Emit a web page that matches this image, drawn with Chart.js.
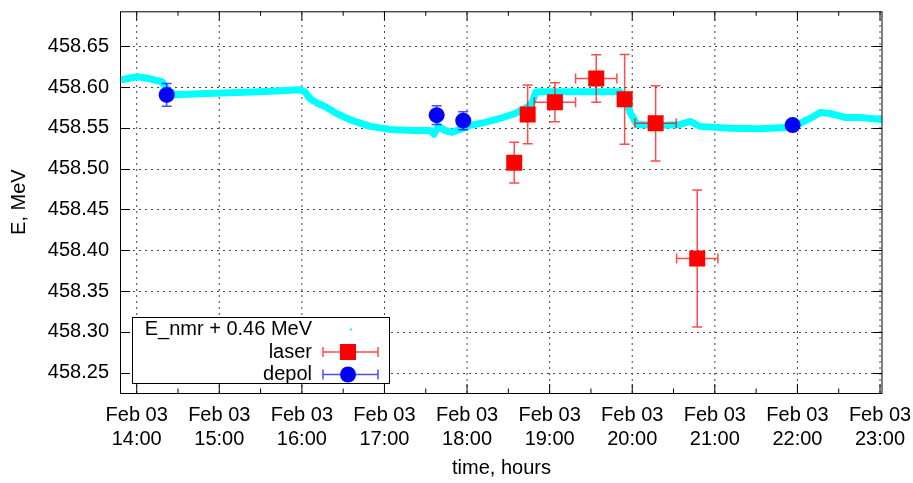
<!DOCTYPE html>
<html>
<head>
<meta charset="utf-8">
<title>Beam energy vs time</title>
<script src="https://cdn.jsdelivr.net/npm/chart.js@4/dist/chart.umd.min.js"></script>
<style>
  html, body { margin: 0; padding: 0; background: #fff; }
  #wrap { width: 913px; height: 483px; }
</style>
</head>
<body>
<div id="wrap"><canvas id="energyChart" width="913" height="483"></canvas></div>
<script>
// time axis in hours of Feb 03
const hourTicks = [14, 15, 16, 17, 18, 19, 20, 21, 22, 23];
const hourLabels = ['14:00', '15:00', '16:00', '17:00', '18:00', '19:00', '20:00', '21:00', '22:00', '23:00'];
const dayLabel = 'Feb 03';
const eTicks = [458.25, 458.30, 458.35, 458.40, 458.45, 458.50, 458.55, 458.60, 458.65];

// NMR energy (shifted by +0.46 MeV)
const nmrTime = [13.810, 14.004, 14.161, 14.306, 14.379, 14.464, 14.766, 15.130, 15.493, 15.856,
                 15.977, 16.038, 16.098, 16.195, 16.280, 16.401, 16.522, 16.643, 16.825, 17.067,
                 17.309, 17.551, 17.600, 17.648, 17.733, 17.818, 17.915, 18.036, 18.218, 18.399,
                 18.581, 18.739, 18.787, 18.835, 19.126, 19.489, 19.852, 19.925, 19.973, 20.058,
                 20.336, 20.579, 20.700, 20.821, 21.184, 21.547, 21.911, 22.032, 22.153, 22.274,
                 22.395, 22.576, 22.758, 23.024];
const nmrE = [458.6090, 458.6127, 458.6102, 458.6066, 458.5957, 458.5908, 458.5920, 458.5932, 458.5944, 458.5963,
              458.5969, 458.5944, 458.5859, 458.5799, 458.5762, 458.5689, 458.5628, 458.5580, 458.5519, 458.5482,
              458.5470, 458.5470, 458.5422, 458.5519, 458.5470, 458.5446, 458.5482, 458.5531, 458.5568, 458.5616,
              458.5677, 458.5762, 458.5810, 458.5944, 458.5944, 458.5944, 458.5944, 458.5859, 458.5689, 458.5543,
              458.5531, 458.5543, 458.5580, 458.5519, 458.5495, 458.5489, 458.5507, 458.5555, 458.5616, 458.5689,
              458.5677, 458.5628, 458.5628, 458.5604];

// laser backscattering points
const laserTime = [18.571, 18.734, 19.064, 19.564, 19.908, 20.283, 20.787];
const laserE    = [458.5074, 458.5665, 458.5815, 458.6106, 458.5851, 458.5556, 458.3900];
const laserTErr = [0, 0, 0.25, 0.25, 0, 0.25, 0.25];
const laserEErr = [0.025, 0.036, 0.024, 0.029, 0.055, 0.046, 0.084];

// resonant depolarization points
const depolTime = [14.363, 17.632, 17.954, 21.942];
const depolE    = [458.5905, 458.5657, 458.5589, 458.5535];
const depolTErr = [0, 0, 0, 0];
const depolEErr = [0.014, 0.0115, 0.011, 0.004];

const FONT = "'Liberation Sans', Arial, Helvetica, sans-serif";
Chart.defaults.font.family = FONT;
Chart.defaults.font.size = 20;
Chart.defaults.color = '#000';

const NMR_COLOR = '#00ffff';
const LASER_COLOR = '#ff0000';
const DEPOL_COLOR = '#0000ff';
const LASER_BAR = 'rgba(255,0,0,0.7)';
const DEPOL_BAR = 'rgba(0,0,255,0.7)';

function toXY(xs, ys) {
    return xs.map((t, i) => ({ x: t, y: ys[i] }));
}

// error bars with small caps, drawn through the chart scales
function drawErrorBars(ctx, xs, ys, tErr, eErr, color, xScale, yScale) {
    const cap = 5;
    ctx.save();
    ctx.strokeStyle = color;
    ctx.lineWidth = 1.5;
    for (let i = 0; i < xs.length; i++) {
        const px = xScale.getPixelForValue(xs[i]);
        const py = yScale.getPixelForValue(ys[i]);
        if (eErr[i] > 0) {
            const top = yScale.getPixelForValue(ys[i] + eErr[i]);
            const bot = yScale.getPixelForValue(ys[i] - eErr[i]);
            ctx.beginPath();
            ctx.moveTo(px, top); ctx.lineTo(px, bot);
            ctx.moveTo(px - cap, top); ctx.lineTo(px + cap, top);
            ctx.moveTo(px - cap, bot); ctx.lineTo(px + cap, bot);
            ctx.stroke();
        }
        if (tErr[i] > 0) {
            const l = xScale.getPixelForValue(xs[i] - tErr[i]);
            const r = xScale.getPixelForValue(xs[i] + tErr[i]);
            ctx.beginPath();
            ctx.moveTo(l, py); ctx.lineTo(r, py);
            ctx.moveTo(l, py - cap); ctx.lineTo(l, py + cap);
            ctx.moveTo(r, py - cap); ctx.lineTo(r, py + cap);
            ctx.stroke();
        }
    }
    ctx.restore();
}

// keep the plot box fixed: no extra room for overhanging tick labels
function noOverhang(s) {
    s.paddingLeft = 0;
    s.paddingRight = 0;
    s.paddingTop = 0;
    s.paddingBottom = 0;
}

const gridPlugin = {
    id: 'dottedGrid',
    beforeDatasetsDraw(chart) {
        const { ctx, chartArea: a, scales: { x, y } } = chart;
        ctx.save();
        ctx.strokeStyle = '#444';
        ctx.lineWidth = 1;
        ctx.setLineDash([2, 4]);
        hourTicks.forEach(t => {
            const px = x.getPixelForValue(t);
            ctx.beginPath(); ctx.moveTo(px, a.bottom); ctx.lineTo(px, a.top); ctx.stroke();
        });
        eTicks.forEach(v => {
            const py = Math.round(y.getPixelForValue(v)) + 0.5;
            ctx.beginPath(); ctx.moveTo(a.left, py); ctx.lineTo(a.right, py); ctx.stroke();
        });
        ctx.restore();
    }
};

const errorBarPlugin = {
    id: 'errorBars',
    afterDatasetDraw(chart, args) {
        // right after the NMR band, so the markers end up on top of the bars
        if (args.index !== 0) return;
        const { ctx, chartArea: a, scales: { x, y } } = chart;
        ctx.save();
        ctx.beginPath();
        ctx.rect(a.left, a.top, a.right - a.left, a.bottom - a.top);
        ctx.clip();
        drawErrorBars(ctx, laserTime, laserE, laserTErr, laserEErr, LASER_BAR, x, y);
        drawErrorBars(ctx, depolTime, depolE, depolTErr, depolEErr, DEPOL_BAR, x, y);
        ctx.restore();
    }
};

const framePlugin = {
    id: 'frameAndKey',
    afterDraw(chart) {
        const { ctx, chartArea: a, scales: { x, y } } = chart;
        ctx.save();
        ctx.strokeStyle = '#000';
        ctx.lineWidth = 1;
        ctx.setLineDash([]);
        ctx.strokeRect(a.left - 0.5, a.top + 0.5, a.right - a.left + 0.5, a.bottom - a.top);

        // inward tick marks on all four sides
        ctx.beginPath();
        hourTicks.forEach(t => {
            const px = x.getPixelForValue(t);
            ctx.moveTo(px, a.bottom); ctx.lineTo(px, a.bottom - 9);
            ctx.moveTo(px, a.top); ctx.lineTo(px, a.top + 9);
            const pm = x.getPixelForValue(t + 0.5);
            if (pm < a.right) {
                ctx.moveTo(pm, a.bottom); ctx.lineTo(pm, a.bottom - 4.5);
                ctx.moveTo(pm, a.top); ctx.lineTo(pm, a.top + 4.5);
            }
        });
        const pm0 = x.getPixelForValue(hourTicks[0] - 0.5);
        if (pm0 > a.left) {
            ctx.moveTo(pm0, a.bottom); ctx.lineTo(pm0, a.bottom - 4.5);
            ctx.moveTo(pm0, a.top); ctx.lineTo(pm0, a.top + 4.5);
        }
        eTicks.forEach(v => {
            const py = Math.round(y.getPixelForValue(v)) + 0.5;
            ctx.moveTo(a.left, py); ctx.lineTo(a.left + 9, py);
            ctx.moveTo(a.right, py); ctx.lineTo(a.right - 9, py);
        });
        ctx.stroke();

        // key box
        const kx = 132, ky = 317, kw = 257, kh = 66;
        ctx.fillStyle = '#fff';
        ctx.fillRect(kx, ky, kw, kh);
        ctx.strokeRect(kx + 0.5, ky + 0.5, kw, kh);

        const textRight = 312;
        const sx = 348, sl = 323, sr = 378;
        const rows = [329.5, 352, 374.5];
        ctx.fillStyle = '#000';
        ctx.font = '20px ' + FONT;
        ctx.textAlign = 'right';
        ctx.textBaseline = 'middle';
        ctx.fillText('E_nmr + 0.46 MeV', textRight, rows[0]);
        ctx.fillText('laser', textRight, rows[1]);
        ctx.fillText('depol', textRight, rows[2]);

        ctx.fillStyle = NMR_COLOR;
        ctx.fillRect(sx + 2, rows[0] - 1, 2, 2);

        [[rows[1], LASER_BAR], [rows[2], DEPOL_BAR]].forEach(([ry, col]) => {
            ctx.strokeStyle = col;
            ctx.lineWidth = 1.5;
            ctx.beginPath();
            ctx.moveTo(sl, ry); ctx.lineTo(sr, ry);
            ctx.moveTo(sl, ry - 5); ctx.lineTo(sl, ry + 5);
            ctx.moveTo(sr, ry - 5); ctx.lineTo(sr, ry + 5);
            ctx.stroke();
        });
        ctx.fillStyle = LASER_COLOR;
        ctx.fillRect(sx - 8, rows[1] - 8, 16, 16);
        ctx.fillStyle = DEPOL_COLOR;
        ctx.beginPath();
        ctx.arc(sx, rows[2], 8, 0, Math.PI * 2);
        ctx.fill();
        ctx.restore();
    }
};

new Chart(document.getElementById('energyChart'), {
    type: 'scatter',
    data: {
        datasets: [
            {
                label: 'E_nmr + 0.46 MeV',
                type: 'line',
                data: toXY(nmrTime, nmrE),
                borderColor: NMR_COLOR,
                borderWidth: 7,
                borderJoinStyle: 'round',
                borderCapStyle: 'butt',
                pointRadius: 0,
                tension: 0,
                fill: false,
                order: 3
            },
            {
                label: 'laser',
                data: toXY(laserTime, laserE),
                pointStyle: 'rect',
                pointRadius: 11.3,
                pointHoverRadius: 11.3,
                pointBackgroundColor: LASER_COLOR,
                pointBorderWidth: 0,
                order: 2
            },
            {
                label: 'depol',
                data: toXY(depolTime, depolE),
                pointStyle: 'circle',
                pointRadius: 8,
                pointHoverRadius: 8,
                pointBackgroundColor: DEPOL_COLOR,
                pointBorderWidth: 0,
                order: 1
            }
        ]
    },
    options: {
        responsive: false,
        animation: false,
        devicePixelRatio: 1,
        layout: { padding: { left: 0, right: 31, top: 8, bottom: 0 } },
        plugins: {
            legend: { display: false },
            tooltip: { enabled: false }
        },
        scales: {
            x: {
                type: 'linear',
                min: 13.81,
                max: 23.024,
                afterBuildTicks: s => { s.ticks = hourTicks.map(v => ({ value: v })); },
                afterFit: s => { s.height = 90; noOverhang(s); },
                grid: { display: false, drawTicks: false },
                border: { display: false },
                ticks: {
                    autoSkip: false,
                    maxRotation: 0,
                    padding: 10,
                    font: { size: 20, lineHeight: 1.2 },
                    callback: (v) => [dayLabel, hourLabels[hourTicks.indexOf(v)]]
                },
                title: {
                    display: true,
                    text: 'time, hours',
                    font: { size: 20 },
                    padding: { top: 0, bottom: 3 }
                }
            },
            y: {
                type: 'linear',
                min: 458.225,
                max: 458.693,
                afterBuildTicks: s => { s.ticks = eTicks.map(v => ({ value: v })); },
                afterFit: s => { s.width = 121; noOverhang(s); },
                grid: { display: false, drawTicks: false },
                border: { display: false },
                ticks: {
                    padding: 12,
                    callback: v => v.toFixed(2)
                },
                title: {
                    display: true,
                    text: 'E, MeV',
                    font: { size: 20 },
                    padding: { top: 7, bottom: 0 }
                }
            }
        }
    },
    plugins: [gridPlugin, errorBarPlugin, framePlugin]
});
</script>
</body>
</html>
